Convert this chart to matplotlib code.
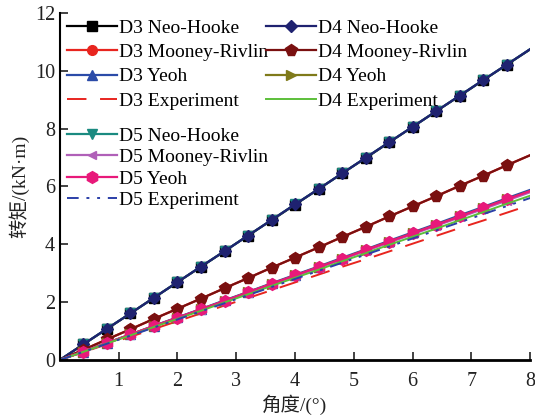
import matplotlib
matplotlib.use('Agg')
import matplotlib.pyplot as plt

plt.rcParams['font.family'] = ['Liberation Serif', 'Noto Sans CJK SC']

angle = [0, 0.4, 0.8, 1.2, 1.6, 2.0, 2.4, 2.8, 3.2, 3.6, 4.0,
         4.4, 4.8, 5.2, 5.6, 6.0, 6.4, 6.8, 7.2, 7.6, 8.0]

d3_neo = [0, 0.54, 1.07, 1.61, 2.15, 2.69, 3.22, 3.76, 4.30, 4.83, 5.37,
          5.91, 6.45, 6.98, 7.52, 8.06, 8.60, 9.13, 9.67, 10.21, 10.74]
d3_mr = [0, 0.35, 0.71, 1.06, 1.42, 1.77, 2.12, 2.48, 2.83, 3.19, 3.54,
         3.89, 4.25, 4.60, 4.96, 5.31, 5.66, 6.02, 6.37, 6.73, 7.08]
d3_yeoh = [0, 0.29, 0.59, 0.88, 1.18, 1.47, 1.76, 2.06, 2.35, 2.65, 2.94,
           3.23, 3.53, 3.82, 4.12, 4.41, 4.70, 5.00, 5.29, 5.59, 5.88]
d3_exp = [0, 0.27, 0.54, 0.80, 1.07, 1.34, 1.61, 1.88, 2.14, 2.41, 2.68,
          2.95, 3.22, 3.48, 3.75, 4.02, 4.29, 4.56, 4.82, 5.09, 5.36]

d4_neo = [0, 0.54, 1.08, 1.61, 2.15, 2.69, 3.23, 3.76, 4.30, 4.84, 5.38,
          5.91, 6.45, 6.99, 7.53, 8.06, 8.60, 9.14, 9.68, 10.21, 10.75]
d4_mr = [0, 0.35, 0.71, 1.06, 1.42, 1.77, 2.12, 2.48, 2.83, 3.19, 3.54,
         3.89, 4.25, 4.60, 4.96, 5.31, 5.66, 6.02, 6.37, 6.73, 7.08]
d4_yeoh = [0, 0.29, 0.58, 0.88, 1.17, 1.46, 1.75, 2.04, 2.34, 2.63, 2.92,
           3.21, 3.50, 3.80, 4.09, 4.38, 4.67, 4.96, 5.26, 5.55, 5.84]
d4_exp = [0, 0.28, 0.57, 0.85, 1.14, 1.42, 1.70, 1.99, 2.27, 2.56, 2.84,
          3.12, 3.41, 3.69, 3.98, 4.26, 4.54, 4.83, 5.11, 5.40, 5.68]

d5_neo = [0, 0.54, 1.08, 1.61, 2.15, 2.69, 3.23, 3.76, 4.30, 4.84, 5.38,
          5.91, 6.45, 6.99, 7.53, 8.06, 8.60, 9.14, 9.68, 10.21, 10.75]
d5_mr = [0, 0.29, 0.58, 0.87, 1.16, 1.45, 1.74, 2.03, 2.32, 2.61, 2.90,
         3.19, 3.48, 3.77, 4.06, 4.35, 4.64, 4.93, 5.22, 5.51, 5.80]
d5_yeoh = [0, 0.29, 0.58, 0.88, 1.17, 1.46, 1.75, 2.04, 2.34, 2.63, 2.92,
           3.21, 3.50, 3.80, 4.09, 4.38, 4.67, 4.96, 5.26, 5.55, 5.84]
d5_exp = [0, 0.28, 0.56, 0.84, 1.12, 1.40, 1.68, 1.96, 2.24, 2.52, 2.80,
          3.08, 3.36, 3.64, 3.92, 4.20, 4.48, 4.76, 5.04, 5.32, 5.60]

BLACK = '#000000'
RED = '#e8251f'
BLUE = '#2b4ba8'
TEAL = '#1a8a80'
PURPLE = '#b060b8'
PINK = '#e8197a'
DOTBLUE = '#2b3fa8'
NAVY = '#1f2270'
DARKRED = '#7a1010'
OLIVE = '#7f7a1a'
GREEN = '#5cbf3a'
TXT = '#222222'

fig = plt.figure(figsize=(5.35, 4.18), dpi=100)
ax = fig.add_axes([0.112, 0.139, 0.879, 0.830])

mk = dict(markevery=slice(1, -1), markersize=7, linewidth=1.6)

# D3
l_d3n, = ax.plot(angle, d3_neo, color=BLACK, marker='s', label='D3 Neo-Hooke', **mk)
l_d3m, = ax.plot(angle, d3_mr, color=RED, marker='o', label='D3 Mooney-Rivlin', **mk)
l_d3y, = ax.plot(angle, d3_yeoh, color=BLUE, marker='^', label='D3 Yeoh', **mk)
l_d3e, = ax.plot(angle, d3_exp, color=RED, linestyle=(0, (10, 7)), linewidth=1.4,
                 label='D3 Experiment')
# D5 Neo-Hooke sits just under D4
l_d5n, = ax.plot(angle, d5_neo, color=TEAL, marker='v', label='D5 Neo-Hooke', **mk)
# D4
l_d4n, = ax.plot(angle, d4_neo, color=NAVY, marker='D', label='D4 Neo-Hooke',
                 markevery=slice(1, -1), markersize=6.5, linewidth=1.6)
l_d4m, = ax.plot(angle, d4_mr, color=DARKRED, marker='p', markersize=8.5,
                 markevery=slice(1, -1), linewidth=1.6, label='D4 Mooney-Rivlin')
l_d4y, = ax.plot(angle, d4_yeoh, color=OLIVE, marker='>', label='D4 Yeoh', **mk)
l_d5m, = ax.plot(angle, d5_mr, color=PURPLE, marker='<', label='D5 Mooney-Rivlin',
                 markevery=slice(1, -1), markersize=6, linewidth=1.6)
l_d5y, = ax.plot(angle, d5_yeoh, color=PINK, marker='h', markersize=8.5,
                 markevery=slice(1, -1), linewidth=1.6, label='D5 Yeoh')
l_d4e, = ax.plot(angle, d4_exp, color=GREEN, linewidth=1.4, label='D4 Experiment')
l_d5e, = ax.plot(angle, d5_exp, color=DOTBLUE, linewidth=1.4,
                 linestyle=(0, (6, 4, 1.5, 4, 1.5, 4)), label='D5 Experiment')

ax.set_xlim(0, 8)
ax.set_ylim(0, 12)
ax.set_xticks([1, 2, 3, 4, 5, 6, 7, 8])
ax.set_yticks([0, 2, 4, 6, 8, 10, 12])
ax.tick_params(direction='in', length=6, width=1.2, labelsize=14.5, colors=TXT)
ax.tick_params(axis='x', pad=9)
ax.spines[['top', 'right']].set_visible(False)
ax.spines['left'].set_linewidth(1.5)
ax.spines['bottom'].set_linewidth(2)

ax.set_xlabel('角度/(°)', fontsize=14, color=TXT, labelpad=2)
ax.set_ylabel('转矩/(kN·m)', fontsize=14, color=TXT, labelpad=4)

leg_kw = dict(frameon=False, fontsize=14, handlelength=2.6, handletextpad=0.1,
              borderaxespad=0.2)
leg1 = ax.legend(handles=[l_d3n, l_d3m, l_d3y, l_d3e, l_d4n, l_d4m, l_d4y, l_d4e],
                 ncol=2, loc='upper left', bbox_to_anchor=(-0.01, 1.015),
                 columnspacing=-0.15, labelspacing=0.34, **leg_kw)
ax.add_artist(leg1)
ax.legend(handles=[l_d5n, l_d5m, l_d5y, l_d5e], loc='upper left',
          bbox_to_anchor=(-0.01, 0.705), labelspacing=0.2, **leg_kw)

fig.savefig('out.png', dpi=100)
